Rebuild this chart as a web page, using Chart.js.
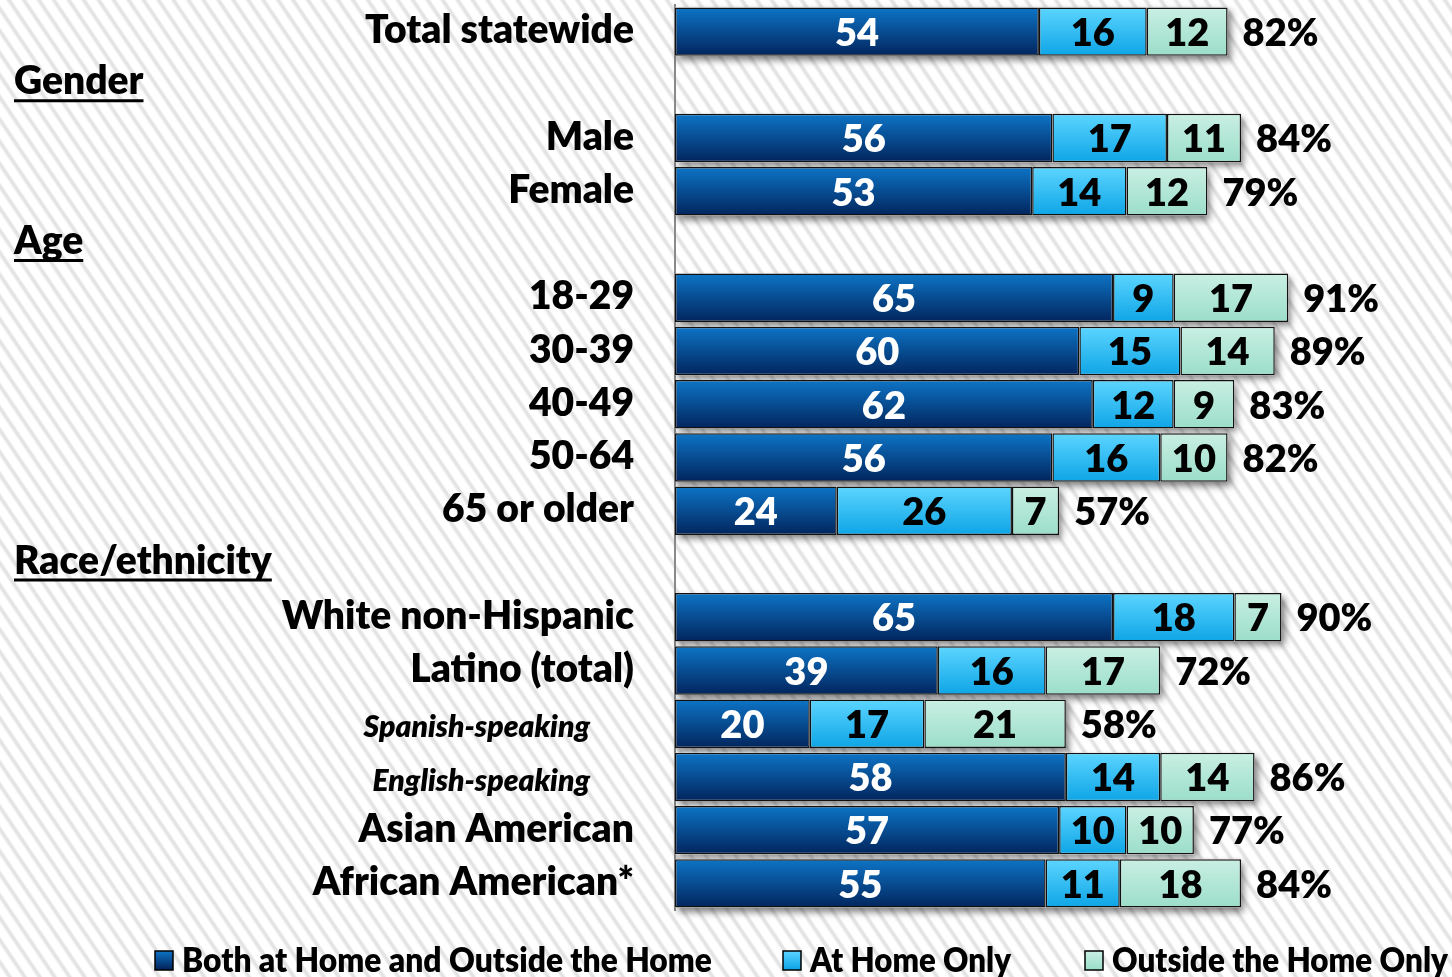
<!DOCTYPE html>
<html>
<head>
<meta charset="utf-8">
<script src="https://cdn.jsdelivr.net/npm/chart.js@4.4.0/dist/chart.umd.min.js"></script>
<style>
    html, body { margin: 0; padding: 0; }
    body {
        width: 1452px;
        height: 977px;
        overflow: hidden;
        background: repeating-linear-gradient(56deg,
            #ffffff 0px, #ffffff 5px, #e3e3e3 7.5px, #e3e3e3 9px, #ffffff 11px, #ffffff 12.4px);
    }
    canvas { display: block; }
</style>
</head>
<body>
<canvas id="chart" width="1452" height="977"></canvas>
<script>
// ============ DATA ============
const categories = [
    'Total statewide', 'Gender', 'Male', 'Female', 'Age',
    '18-29', '30-39', '40-49', '50-64', '65 or older', 'Race/ethnicity',
    'White non-Hispanic', 'Latino (total)', 'Spanish-speaking', 'English-speaking',
    'Asian American', 'African American*'
];
const bothValues = [54, null, 56, 53, null, 65, 60, 62, 56, 24, null, 65, 39, 20, 58, 57, 55];
const homeOnlyValues = [16, null, 17, 14, null, 9, 15, 12, 16, 26, null, 18, 16, 17, 14, 10, 11];
const outsideOnlyValues = [12, null, 11, 12, null, 17, 14, 9, 10, 7, null, 7, 17, 21, 14, 10, 18];
const seriesNames = ['Both at Home and Outside the Home', 'At Home Only', 'Outside the Home Only'];
const headerRows = ['Gender', 'Age', 'Race/ethnicity'];
const subRows = ['Spanish-speaking', 'English-speaking'];

// ============ STYLE ============
const FONT = 'Lato, "Open Sans", sans-serif';
const AXIS_LEFT = 675;
const BAR_HALF = 24;
const gradients = [
    ['#0d74c6', '#02255d'],
    ['#5cd5ff', '#0ea5e6'],
    ['#c9efe3', '#9bdec9']
];

function makeFill(top, bottom) {
    return function (context) {
        const chart = context.chart;
        const yScale = chart.scales.y;
        if (!chart.chartArea || !yScale) return bottom;
        const y = yScale.getPixelForValue(context.dataIndex);
        const g = chart.ctx.createLinearGradient(0, y - BAR_HALF, 0, y + BAR_HALF);
        g.addColorStop(0, top);
        g.addColorStop(1, bottom);
        return g;
    };
}

function rowTotal(i) {
    if (bothValues[i] == null) return null;
    return bothValues[i] + homeOnlyValues[i] + outsideOnlyValues[i];
}

// ============ PLUGINS ============
// one shadow per row, drawn under the bars
const rowShadow = {
    id: 'rowShadow',
    beforeDatasetsDraw(chart) {
        const ctx = chart.ctx;
        const first = chart.getDatasetMeta(0);
        const last = chart.getDatasetMeta(2);
        ctx.save();
        ctx.shadowColor = 'rgba(0,0,0,0.5)';
        ctx.shadowBlur = 7;
        ctx.shadowOffsetX = 3;
        ctx.shadowOffsetY = 4;
        ctx.fillStyle = '#ffffff';
        categories.forEach((c, i) => {
            if (rowTotal(i) == null) return;
            const a = first.data[i];
            const b = last.data[i];
            ctx.fillRect(a.base, a.y - a.height / 2, b.x - a.base, a.height);
        });
        ctx.restore();
    }
};

const segmentLabels = {
    id: 'segmentLabels',
    afterDatasetsDraw(chart) {
        const ctx = chart.ctx;
        ctx.save();
        ctx.font = '800 38px ' + FONT;
        ctx.textBaseline = 'middle';
        ctx.textAlign = 'center';
        chart.data.datasets.forEach((ds, di) => {
            const meta = chart.getDatasetMeta(di);
            meta.data.forEach((bar, i) => {
                const v = ds.data[i];
                if (v == null) return;
                ctx.fillStyle = di === 0 ? '#ffffff' : '#000000';
                ctx.fillText(String(v), (bar.x + bar.base) / 2, bar.y + 2);
            });
        });

        const last = chart.getDatasetMeta(2);
        ctx.textAlign = 'left';
        ctx.fillStyle = '#000000';
        categories.forEach((c, i) => {
            const t = rowTotal(i);
            if (t == null) return;
            ctx.fillText(t + '%', last.data[i].x + 15, last.data[i].y + 2);
        });
        ctx.restore();
    }
};

const categoryLabels = {
    id: 'categoryLabels',
    afterDraw(chart) {
        const ctx = chart.ctx;
        const yScale = chart.scales.y;
        ctx.save();
        ctx.fillStyle = '#000000';
        ctx.strokeStyle = '#000000';
        ctx.textBaseline = 'middle';
        categories.forEach((label, i) => {
            const y = yScale.getPixelForValue(i);
            if (headerRows.includes(label)) {
                ctx.font = '800 39px ' + FONT;
                ctx.textAlign = 'left';
                ctx.fillText(label, 14, y - 3);
                const w = ctx.measureText(label).width;
                ctx.lineWidth = 3;
                ctx.beginPath();
                ctx.moveTo(14, y + 16);
                ctx.lineTo(14 + w, y + 16);
                ctx.stroke();
            } else if (subRows.includes(label)) {
                ctx.font = 'italic 800 30px ' + FONT;
                ctx.textAlign = 'right';
                ctx.fillText(label, 590, y + 4);
            } else {
                ctx.font = '800 39px ' + FONT;
                ctx.textAlign = 'right';
                ctx.fillText(label, 634, y - 1);
            }
        });
        ctx.restore();
    }
};

const bottomLegend = {
    id: 'bottomLegend',
    afterDraw(chart) {
        const ctx = chart.ctx;
        const boxX = [155, 783, 1085];
        const maxW = [530, 201, 336];
        const y = 960;
        ctx.save();
        ctx.font = '800 34px ' + FONT;
        ctx.textBaseline = 'middle';
        ctx.textAlign = 'left';
        seriesNames.forEach((name, i) => {
            const g = ctx.createLinearGradient(0, y - 9, 0, y + 9);
            g.addColorStop(0, gradients[i][0]);
            g.addColorStop(1, gradients[i][1]);
            ctx.fillStyle = g;
            ctx.fillRect(boxX[i], y - 9, 18, 19);
            ctx.lineWidth = 1.5;
            ctx.strokeStyle = '#000000';
            ctx.strokeRect(boxX[i], y - 9, 18, 19);
            ctx.fillStyle = '#000000';
            ctx.fillText(name, boxX[i] + 27, y + 1, maxW[i]);
        });
        ctx.restore();
    }
};

// ============ CHART ============
const seriesValues = [bothValues, homeOnlyValues, outsideOnlyValues];

new Chart(document.getElementById('chart'), {
    type: 'bar',
    data: {
        labels: categories,
        datasets: seriesNames.map((name, i) => ({
            label: name,
            data: seriesValues[i],
            backgroundColor: makeFill(gradients[i][0], gradients[i][1]),
            borderColor: '#111111',
            borderWidth: 1.5,
            borderSkipped: false,
            barPercentage: 0.91,
            categoryPercentage: 1
        }))
    },
    options: {
        indexAxis: 'y',
        responsive: false,
        animation: false,
        layout: { padding: { left: 0, right: 2, top: 5, bottom: 67 } },
        plugins: {
            legend: { display: false },
            tooltip: { enabled: false }
        },
        scales: {
            x: {
                stacked: true,
                display: false,
                min: 0,
                max: 115
            },
            y: {
                stacked: true,
                display: true,
                ticks: { display: false },
                grid: { display: false },
                border: { display: true, color: '#8a8a8a', width: 2 },
                afterFit(scale) {
                    scale.width = AXIS_LEFT;
                }
            }
        }
    },
    plugins: [rowShadow, segmentLabels, categoryLabels, bottomLegend]
});
</script>
</body>
</html>
